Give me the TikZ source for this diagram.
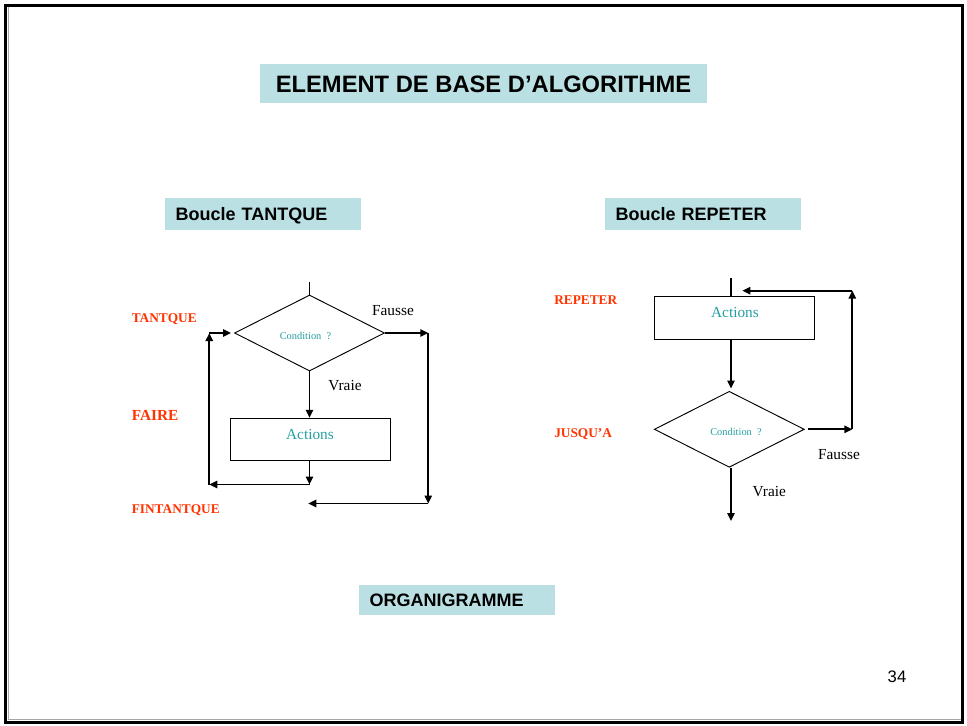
\documentclass[tikz,border=0pt]{standalone}
\usepackage{fontspec}
\setmainfont{Liberation Serif}
\newfontfamily\arialfont{Liberation Sans}
\usetikzlibrary{shapes.geometric,arrows.meta}
\definecolor{boxfill}{RGB}{186,224,228}
\definecolor{tealtext}{RGB}{38,160,162}
\definecolor{kwred}{RGB}{255,51,0}
\tikzset{
  headbox/.style={fill=boxfill, inner sep=0pt, text height=10pt, text depth=0.5pt, font=\arialfont\bfseries},
  subhead/.style={headbox, minimum width=147pt, text width=131pt, align=left,
    font=\arialfont\bfseries\fontsize{13.5}{15}\selectfont},
  flowline/.style={line width=1.1pt, black},
  flowarrow/.style={line width=1.3pt, black, -{Triangle[length=6pt,width=5.5pt]}},
  testbox/.style={draw, line width=0.7pt, diamond, inner sep=0pt,
    minimum width=112.5pt, minimum height=57pt},
  testtext/.style={font=\fontsize{7.8}{9}\selectfont, text=tealtext, inner sep=0pt},
  actbox/.style={draw, line width=0.7pt, rectangle, inner sep=0pt, minimum width=120pt, minimum height=31.8pt},
  acttext/.style={font=\fontsize{11.5}{13}\selectfont, text=tealtext, inner sep=0pt},
  branch/.style={font=\fontsize{11.5}{13}\selectfont, inner sep=0pt},
  keyword/.style={font=\bfseries\fontsize{10}{12}\selectfont, text=kwred, inner sep=0pt, anchor=west},
}
\begin{document}
\begin{tikzpicture}[x=0.75pt, y=-0.75pt]
\useasboundingbox (0,0) rectangle (967,725);
\fill[white] (0,0) rectangle (967,725);
% slide frame
\draw[gray!70, line width=1.2pt] (8.5,6) -- (8.5,719.5) -- (962,719.5);
\draw[line width=2.3pt] (5.5,5.5) rectangle (962.5,722.5);

% headings
\node[headbox, minimum width=335.25pt, minimum height=29.25pt, text height=13pt, text depth=0pt,
  font=\arialfont\bfseries\fontsize{17.8}{20}\selectfont]
  (title) at (483.5,83.5) {ELEMENT DE BASE D’ALGORITHME};
\node[subhead, minimum height=24pt] (hTant) at (263,214) {Boucle TANTQUE};
\node[subhead, minimum height=24pt] (hRep) at (703,214) {Boucle REPETER};
\node[subhead, minimum height=22.5pt] (hOrg) at (457,600) {ORGANIGRAMME};
\node[font=\arialfont\fontsize{12.5}{14}\selectfont, inner sep=0pt] (pnum) at (897,677) {34};

% ---- TANTQUE loop ----
\node[keyword] (kTant) at (131.5,319) {TANTQUE};
\node[keyword, font=\bfseries\fontsize{11.5}{13}\selectfont] (kFaire) at (131.5,415) {FAIRE};
\node[keyword] (kFin) at (131.5,510) {FINTANTQUE};

\node[testbox] (dL) at (309.5,333) {};
\node[testtext] (cL) at (305.5,335.5) {Condition~~?};
\coordinate (inL) at (309.5,281.5);
\draw[flowline] (inL) -- (dL.north);

\node[actbox] (aL) at (310.4,439.5) {};
\node[acttext] (aLt) at (310,434) {Actions};

\node[branch] (fausseL) at (393,311) {Fausse};
\node[branch] (vraieL) at (345,386) {Vraie};

\coordinate (fR) at (428.3,333);
\coordinate (fB) at (428.3,503.5);
\coordinate (fEnd) at (308.3,503.5);
\draw[flowarrow] (dL.east) -- (fR);
\draw[flowarrow] (fR) -- (fB);
\draw[flowarrow] (fB) -- (fEnd);

\draw[flowarrow] (dL.south) -- (dL.south |- aL.north);
\coordinate (bL1) at (309.5,484.5);
\coordinate (bL2) at (209.3,484.5);
\coordinate (bL3) at (209.3,333);
\coordinate (bL4) at (231,333);
\draw[flowarrow] (aL.south -| dL.south) -- (bL1);
\draw[flowarrow] (bL1) -- (bL2);
\draw[flowarrow] (bL2) -- (bL3);
\draw[flowarrow] (bL3) -- (bL4);

% ---- REPETER loop ----
\node[keyword] (kRep) at (554,300.5) {REPETER};
\node[keyword] (kJus) at (554,434) {JUSQU’A};

\node[actbox] (aR) at (734.3,317.9) {};
\node[acttext] (aRt) at (735,312.3) {Actions};
\coordinate (inR) at (731,278.3);
\draw[flowline] (inR) -- (inR |- aR.north);

\node[testbox] (dR) at (729.3,429.3) {};
\node[testtext] (cR) at (736,432.3) {Condition~~?};
\coordinate (aRbot) at (731,339);
\coordinate (dRtop) at (731,388.5);
\draw[flowarrow] (aRbot) -- (dRtop);

\coordinate (rS) at (808.3,429.3);
\coordinate (rC) at (852.3,429.3);
\coordinate (rT) at (852.3,290.7);
\coordinate (rE) at (742.3,290.7);
\draw[flowarrow] (rS) -- (rC);
\draw[flowarrow] (rC) -- (rT);
\draw[flowarrow] (rT) -- (rE);

\node[branch] (fausseR) at (839,454.3) {Fausse};
\node[branch] (vraieR) at (769.3,491.7) {Vraie};
\coordinate (outR) at (731,521);
\draw[flowarrow] (dR.south -| outR) -- (outR);
\end{tikzpicture}
\end{document}
